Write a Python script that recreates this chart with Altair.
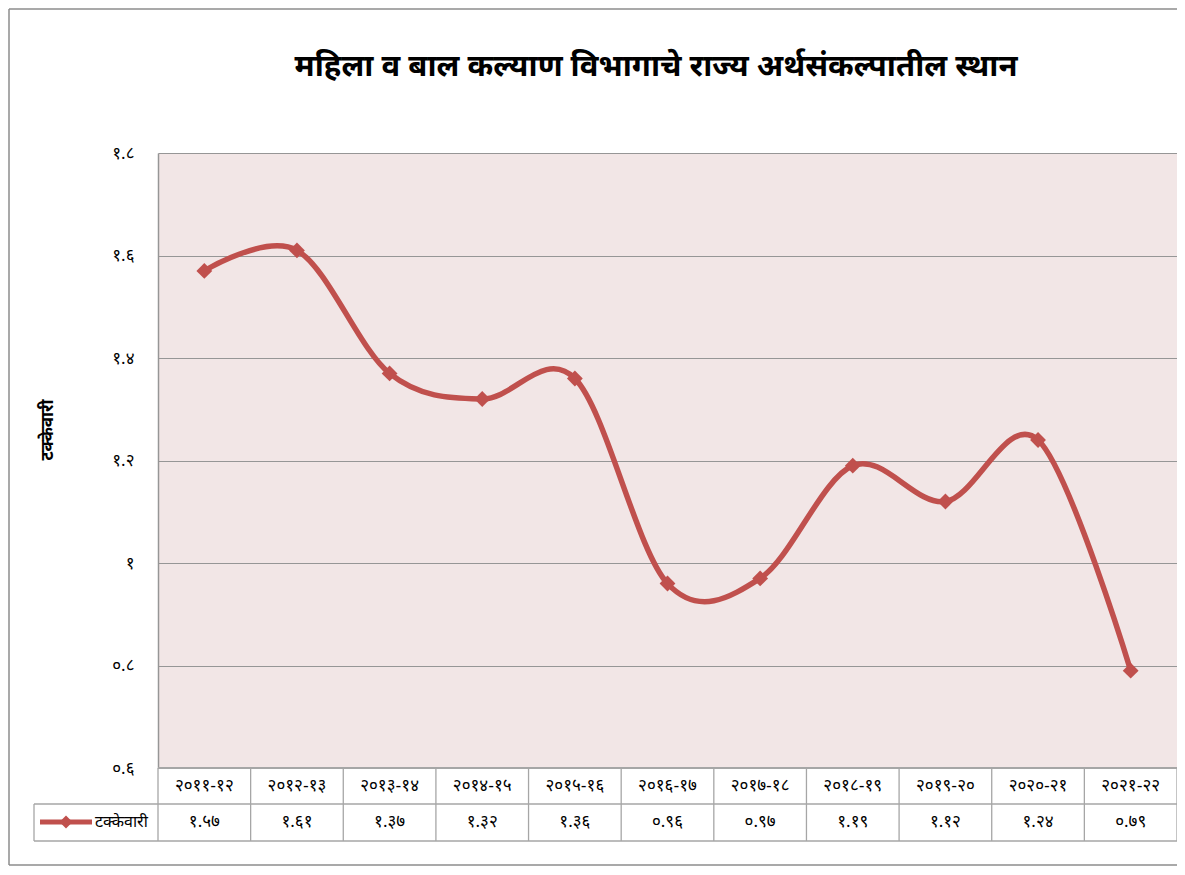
import altair as alt
import pandas as pd

# ---- data ----
categories = ["२०११-१२", "२०१२-१३", "२०१३-१४", "२०१४-१५", "२०१५-१६", "२०१६-१७",
              "२०१७-१८", "२०१८-१९", "२०१९-२०", "२०२०-२१", "२०२१-२२"]
values = [1.57, 1.61, 1.37, 1.32, 1.36, 0.96, 0.97, 1.19, 1.12, 1.24, 0.79]
y_ticks = [0.6, 0.8, 1.0, 1.2, 1.4, 1.6, 1.8]
y_tick_labels = ["०.६", "०.८", "१", "१.२", "१.४", "१.६", "१.८"]
series_name = "टक्केवारी"
title_text = "महिला व बाल कल्याण विभागाचे राज्य अर्थसंकल्पातील स्थान"

DEV = str.maketrans("0123456789", "०१२३४५६७८९")
value_labels = [f"{v:.2f}".translate(DEV) for v in values]

df = pd.DataFrame({"cat": categories, "value": values, "label": value_labels})
one = pd.DataFrame({"k": [0]})

# ---- layout ----
W, H = 1019, 615
ROW1_B = 651
TAB_B = 688
LEG_L = -124
RED = "#c0504d"
GRID = "#969696"
BORDER = "#a6a6a6"
FONT = "Noto Sans Devanagari, Noto Sans, sans-serif"
DIGIT_SIZE = 17

xs = alt.Scale(type="band", domain=categories, paddingInner=0, paddingOuter=0)
X = alt.X("cat:N", scale=xs, axis=None)

label_expr = "[" + ",".join(f"'{s}'" for s in y_tick_labels) + "][round((datum.value-0.6)*5)]"
Y = alt.Y("value:Q",
          scale=alt.Scale(domain=[0.6, 1.8], nice=False, zero=False),
          axis=alt.Axis(values=y_ticks, labelExpr=label_expr, title=None,
                        ticks=False, labelPadding=24, labelFontSize=DIGIT_SIZE,
                        labelColor="#000000", labelFont=FONT,
                        grid=True, gridColor=GRID, gridWidth=1.2,
                        domain=True, domainColor=GRID, domainWidth=1.5))

base = alt.Chart(df)

line = base.mark_line(interpolate="cardinal", color=RED, strokeWidth=5.5).encode(x=X, y=Y)
pts = base.mark_point(shape="diamond", filled=True, size=250, color=RED, opacity=1).encode(x=X, y="value:Q")

cat_text = base.mark_text(fontSize=DIGIT_SIZE, font=FONT, color="#000000", baseline="middle").encode(
    x=X, y=alt.value(633), text="cat:N")
val_text = base.mark_text(fontSize=DIGIT_SIZE, font=FONT, color="#000000", baseline="middle").encode(
    x=X, y=alt.value(669), text="label:N")

vrules = base.mark_rule(color=BORDER, strokeWidth=1.3).encode(
    x=alt.X("cat:N", scale=xs, axis=None, bandPosition=0),
    y=alt.value(H), y2=alt.value(TAB_B))

deco = alt.Chart(one)
r_end = deco.mark_rule(color=BORDER, strokeWidth=1.3).encode(
    x=alt.value(W), y=alt.value(H), y2=alt.value(TAB_B))
r_row1 = deco.mark_rule(color=BORDER, strokeWidth=1.3).encode(
    x=alt.value(LEG_L), x2=alt.value(W), y=alt.value(ROW1_B))
r_bot = deco.mark_rule(color=BORDER, strokeWidth=1.3).encode(
    x=alt.value(LEG_L), x2=alt.value(W), y=alt.value(TAB_B))
r_legl = deco.mark_rule(color=BORDER, strokeWidth=1.3).encode(
    x=alt.value(LEG_L), y=alt.value(ROW1_B), y2=alt.value(TAB_B))
r_top = deco.mark_rule(color=BORDER, strokeWidth=2).encode(
    x=alt.value(0), x2=alt.value(W), y=alt.value(H))

leg_line = deco.mark_rule(color=RED, strokeWidth=5).encode(
    x=alt.value(-118), x2=alt.value(-66), y=alt.value(669))
leg_pt = deco.mark_point(shape="diamond", filled=True, size=170, color=RED, opacity=1).encode(
    x=alt.value(-92), y=alt.value(669))
leg_txt = deco.mark_text(fontSize=16, font=FONT, align="left", baseline="middle", color="#000000").encode(
    x=alt.value(-63), y=alt.value(669), text=alt.value(series_name))

ytitle = deco.mark_text(fontSize=17, font=FONT, fontWeight="bold", angle=270,
                        align="center", baseline="middle", color="#000000").encode(
    x=alt.value(-110), y=alt.value(277), text=alt.value(series_name))

title = deco.mark_text(fontSize=31, font=FONT, fontWeight="bold", align="center",
                       baseline="middle", color="#000000").encode(
    x=alt.value(498), y=alt.value(-86), text=alt.value(title_text))

ob_top = deco.mark_rule(color="#8c8c8c", strokeWidth=1.5).encode(
    x=alt.value(-149), x2=alt.value(W), y=alt.value(-144))
ob_left = deco.mark_rule(color="#8c8c8c", strokeWidth=1.5).encode(
    x=alt.value(-149), y=alt.value(-144), y2=alt.value(712))
ob_bot = deco.mark_rule(color="#8c8c8c", strokeWidth=1.5).encode(
    x=alt.value(-149), x2=alt.value(W), y=alt.value(712))

chart = alt.layer(
    line, vrules, r_end, r_row1, r_bot, r_legl, r_top,
    cat_text, val_text, pts, leg_line, leg_pt, leg_txt, ytitle, title,
    ob_top, ob_left, ob_bot,
).properties(
    width=W, height=H,
    autosize=alt.AutoSizeParams(type="none"),
    padding={"left": 150, "top": 145, "right": 0, "bottom": 99},
    background="#ffffff",
).configure_view(fill="#f2e6e6", stroke="transparent")

chart.save("out.html", embed_options={"renderer": "svg", "actions": False})
